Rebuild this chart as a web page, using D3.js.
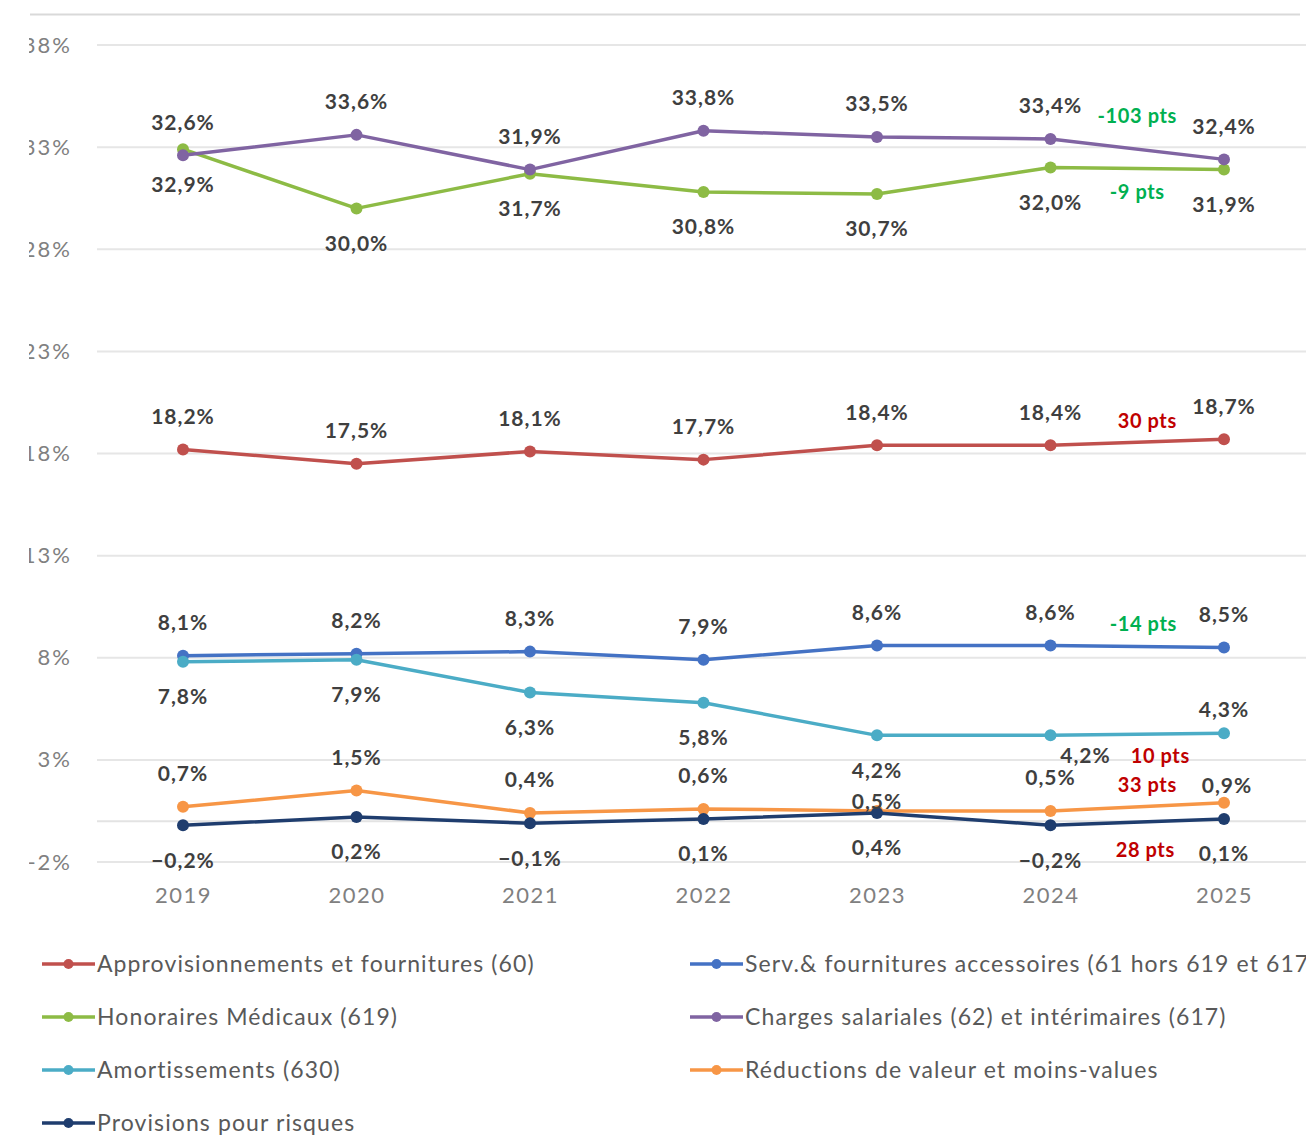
<!DOCTYPE html>
<html>
<head>
<meta charset="utf-8">
<script src="https://cdn.jsdelivr.net/npm/d3@7"></script>
<style>
  html, body { margin: 0; padding: 0; background: #fff; }
  svg { display: block; font-family: Lato, "Open Sans", sans-serif; }
</style>
</head>
<body>
<svg id="chart" width="1306" height="1136"></svg>
<script>
// Years on the horizontal axis
const years = ["2019", "2020", "2021", "2022", "2023", "2024", "2025"];

// Cost shares (% of total) per account group
const approvisionnements = [18.2, 17.5, 18.1, 17.7, 18.4, 18.4, 18.7];
const servFournitures    = [8.1, 8.2, 8.3, 7.9, 8.6, 8.6, 8.5];
const honoraires         = [32.9, 30.0, 31.7, 30.8, 30.7, 32.0, 31.9];
const chargesSalariales  = [32.6, 33.6, 31.9, 33.8, 33.5, 33.4, 32.4];
const amortissements     = [7.8, 7.9, 6.3, 5.8, 4.2, 4.2, 4.3];
const reductionsValeur   = [0.7, 1.5, 0.4, 0.6, 0.5, 0.5, 0.9];
const provisions         = [-0.2, 0.2, -0.1, 0.1, 0.4, -0.2, 0.1];

const seriesNames = [
  "Approvisionnements et fournitures (60)",
  "Serv.& fournitures accessoires (61 hors 619 et 617)",
  "Honoraires Médicaux (619)",
  "Charges salariales (62) et intérimaires (617)",
  "Amortissements (630)",
  "Réductions de valeur et moins-values",
  "Provisions pour risques"
];
const seriesValues = [approvisionnements, servFournitures, honoraires, chargesSalariales,
                      amortissements, reductionsValeur, provisions];

// Change 2024 -> 2025, in basis points
const deltaLabels = ["30 pts", "-14 pts", "-9 pts", "-103 pts", "10 pts", "33 pts", "28 pts"];

// Y-axis ticks
const yTicks = [-2, 3, 8, 13, 18, 23, 28, 33, 38];

// ---- styling / layout ----
const colors = ["#c0504d", "#4472c4", "#8dbb45", "#8064a2", "#4bacc6", "#f79646", "#1f3d6e"];
const labelSide = [-1, -1, 1, -1, 1, -1, 1];   // -1 above the point, 1 below
// individual label nudges [series, yearIndex, dx, dy]
const labelNudges = [
  [4, 6, 0, -59],
  [4, 5, 35, -15],
  [5, 4, 0, 24],
  [5, 6, 3, 16]
];
const deltaPos = [ // [dx from 2024/2025 midpoint, dy from 2025 point]
  [10, -18], [6, -24], [0, 22], [0, -43], [23, 23], [10, -18], [8, 31]
];
const deltaColors = ["#c00000", "#00b050", "#00b050", "#00b050", "#c00000", "#c00000", "#c00000"];

const svg = d3.select("#chart");

const x = d3.scalePoint().domain(years).range([183, 1224]);
const y = d3.scaleLinear().domain([-2, 38]).range([862, 45]);

const fmt = v => d3.format(".1f")(v).replace(".", ",") + "%";

// top border line
svg.append("line")
  .attr("x1", 30).attr("x2", 1300).attr("y1", 14.5).attr("y2", 14.5)
  .attr("stroke", "#d9d9d9").attr("stroke-width", 2);

// horizontal gridlines
svg.append("g").selectAll("line").data(yTicks).join("line")
  .attr("x1", 97).attr("x2", 1306)
  .attr("y1", d => y(d)).attr("y2", d => y(d))
  .attr("stroke", "#e6e6e6").attr("stroke-width", 2);

// zero baseline
svg.append("line")
  .attr("x1", 97).attr("x2", 1306).attr("y1", y(0)).attr("y2", y(0))
  .attr("stroke", "#e3e3e3").attr("stroke-width", 2);

// y axis labels, cut by the panel's left edge
svg.append("defs").append("clipPath").attr("id", "yclip")
  .append("rect").attr("x", 29).attr("y", 0).attr("width", 120).attr("height", 1136);

const yAxis = d3.axisLeft(y).tickValues(yTicks).tickSize(0).tickPadding(0)
  .tickFormat(d => d + "%");
svg.append("g").attr("clip-path", "url(#yclip)")
  .append("g")
  .attr("transform", "translate(72,0)")
  .call(yAxis)
  .call(g => g.select(".domain").remove())
  .call(g => g.selectAll("text")
    .attr("fill", "#808080").attr("font-size", 22).attr("letter-spacing", 2)
    .attr("font-family", "Lato, sans-serif"));

// x axis labels
const xAxis = d3.axisBottom(x).tickSize(0).tickPadding(0);
svg.append("g")
  .attr("transform", "translate(0,887)")
  .call(xAxis)
  .call(g => g.select(".domain").remove())
  .call(g => g.selectAll("text")
    .attr("fill", "#808080").attr("font-size", 22).attr("letter-spacing", 1.5)
    .attr("font-family", "Lato, sans-serif"));

// series lines & points
const line = d3.line().x((d, i) => x(years[i])).y(d => y(d));

const seriesG = svg.append("g").selectAll("g").data(seriesValues).join("g");
seriesG.append("path")
  .attr("d", d => line(d))
  .attr("fill", "none")
  .attr("stroke", (d, i) => colors[i])
  .attr("stroke-width", 3.5)
  .attr("stroke-linejoin", "round");
seriesG.each(function(vals, si) {
  d3.select(this).selectAll("circle").data(vals).join("circle")
    .attr("cx", (d, i) => x(years[i]))
    .attr("cy", d => y(d))
    .attr("r", 6)
    .attr("fill", colors[si]);
});

// data labels
const labelsG = svg.append("g")
  .attr("font-family", "Lato, sans-serif")
  .attr("font-weight", 700)
  .attr("font-size", 21)
  .attr("letter-spacing", 1)
  .attr("fill", "#3f3f3f")
  .attr("text-anchor", "middle");

seriesValues.forEach((vals, si) => {
  vals.forEach((v, i) => {
    let dx = 0, dy = labelSide[si] < 0 ? -33 : 35;
    const n = labelNudges.find(k => k[0] === si && k[1] === i);
    if (n) { dx += n[2]; dy += n[3]; }
    labelsG.append("text")
      .attr("x", x(years[i]) + dx)
      .attr("y", y(v) + dy)
      .attr("dy", "0.35em")
      .text(fmt(v));
  });
});

// deltas 2024 -> 2025
const midX = (x("2024") + x("2025")) / 2;
svg.append("g")
  .attr("font-family", "Lato, sans-serif")
  .attr("font-weight", 700)
  .attr("font-size", 20)
  .attr("letter-spacing", 0.6)
  .attr("text-anchor", "middle")
  .selectAll("text").data(deltaLabels).join("text")
  .attr("x", (d, i) => midX + deltaPos[i][0])
  .attr("y", (d, i) => y(seriesValues[i][6]) + deltaPos[i][1])
  .attr("dy", "0.35em")
  .attr("fill", (d, i) => deltaColors[i])
  .text(d => d);

// legend: two columns
const legend = svg.append("g").attr("font-family", "Lato, sans-serif")
  .attr("font-size", 23).attr("letter-spacing", 1.1).attr("fill", "#595959");
seriesNames.forEach((name, i) => {
  const col = i % 2, row = Math.floor(i / 2);
  const lx = col === 0 ? 42 : 690;
  const ly = 964 + row * 53;
  const g = legend.append("g").attr("transform", `translate(${lx},${ly})`);
  g.append("line").attr("x1", 0).attr("x2", 53).attr("y1", 0).attr("y2", 0)
    .attr("stroke", colors[i]).attr("stroke-width", 3.5);
  g.append("circle").attr("cx", 26.5).attr("cy", 0).attr("r", 5).attr("fill", colors[i]);
  g.append("text").attr("x", 55).attr("y", 0).attr("dy", "0.35em").text(name);
});
</script>
</body>
</html>
